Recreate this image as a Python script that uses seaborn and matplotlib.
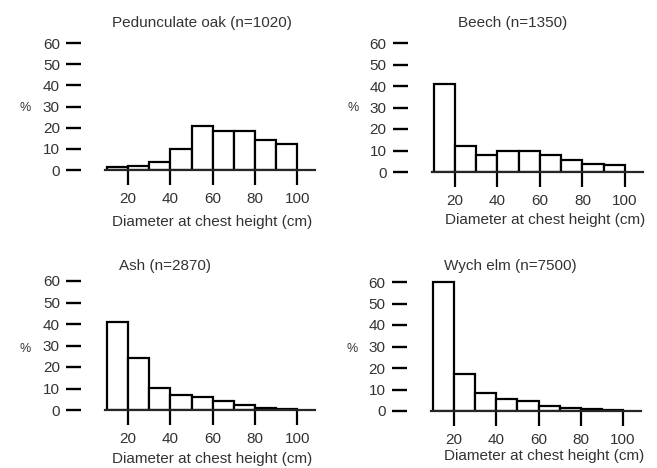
import numpy as np
import seaborn as sns
import matplotlib.pyplot as plt

# diameter classes (cm), 10 cm wide
bin_edges = [10, 20, 30, 40, 50, 60, 70, 80, 90, 100]
bin_mids = [15, 25, 35, 45, 55, 65, 75, 85, 95]

species = ["Pedunculate oak (n=1020)", "Beech (n=1350)", "Ash (n=2870)", "Wych elm (n=7500)"]
oak_pct = [1.6, 2.0, 3.9, 9.7, 20.7, 18.4, 18.4, 14.1, 12.2]
beech_pct = [41, 12, 8, 10, 10, 7.8, 5.4, 3.9, 3.1]
ash_pct = [41, 24, 10.4, 6.8, 6.2, 4.2, 2.2, 1.1, 0.6]
elm_pct = [60, 17, 8.6, 5.8, 4.7, 2.3, 1.2, 0.8, 0.5]

x_ticks = [20, 40, 60, 80, 100]
y_ticks = [0, 10, 20, 30, 40, 50, 60]

sns.set_theme(style="ticks")
plt.rcParams['font.family'] = ['Liberation Sans', 'DejaVu Sans']
txt_col = "#333333"

W, H = 657, 468
fig = plt.figure(figsize=(W / 100, H / 100), dpi=100)

# pixel layout of each panel: left px of x=9, px per cm, y px of 0, y px of 60
layout = [
    (105, 2.1125, 170, 43),
    (431.6, 2.125, 172, 43),
    (105, 2.1125, 410, 281),
    (430.8, 2.1125, 411, 282),
]
title_pos = [(202, 23), (513, 23), (165, 266), (510, 266)]
xlab_pos = [(212, 222), (545, 220), (212, 459), (544, 456)]
pct_pos = [(25, 108), (353, 108), (25, 349), (352, 349)]

data = [oak_pct, beech_pct, ash_pct, elm_pct]

for i, vals in enumerate(data):
    x0, sx, y0, y60 = layout[i]
    sy = (y0 - y60) / 60.0
    xlo, xhi, ylo, yhi = 9, 108.5, 0, 62
    left = x0 / W
    width = (xhi - xlo) * sx / W
    bottom = (H - y0) / H
    height = (yhi - ylo) * sy / H
    ax = fig.add_axes([left, bottom, width, height])
    ax.set_facecolor("none")

    sns.histplot(x=bin_mids, weights=vals, bins=bin_edges, ax=ax,
                 stat="count", element="bars", fill=True,
                 color="white", edgecolor="black", linewidth=1.6, alpha=1)

    ax.set_xlim(xlo, xhi)
    ax.set_ylim(ylo, yhi)
    ax.set_xticks(x_ticks)
    ax.set_yticks(y_ticks)
    ax.set_xlabel("")
    ax.set_ylabel("")

    for s in ["top", "right"]:
        ax.spines[s].set_visible(False)
    ax.spines["bottom"].set_position(("data", 0))
    ax.spines["bottom"].set_linewidth(1.6)
    ax.spines["bottom"].set_zorder(5)
    ax.spines["left"].set_position(("outward", 17))
    ax.spines["left"].set_visible(False)

    ax.tick_params(axis="x", direction="out", length=10.5, width=1.6,
                   pad=5, labelsize=11, colors="black", labelcolor=txt_col)
    ax.tick_params(axis="y", direction="out", length=10.5, width=1.7,
                   pad=5, labelsize=11, colors="black", labelcolor=txt_col)

    fig.text(title_pos[i][0] / W, 1 - title_pos[i][1] / H, species[i],
             ha="center", va="center", fontsize=11, color=txt_col)
    fig.text(xlab_pos[i][0] / W, 1 - xlab_pos[i][1] / H,
             "Diameter at chest height (cm)",
             ha="center", va="center", fontsize=11, color=txt_col)
    fig.text(pct_pos[i][0] / W, 1 - pct_pos[i][1] / H, "%",
             ha="center", va="center", fontsize=9, color=txt_col)

fig.savefig("out.png", dpi=100, facecolor="white")
